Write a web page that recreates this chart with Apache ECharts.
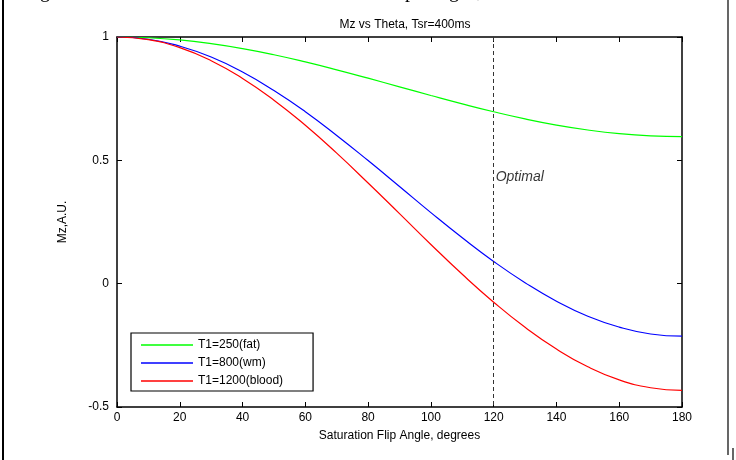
<!DOCTYPE html>
<html>
<head>
<meta charset="utf-8">
<script src="https://cdn.jsdelivr.net/npm/echarts@6/dist/echarts.min.js"></script>
<style>html,body{margin:0;padding:0;background:#fff}#c{width:736px;height:460px}</style>
</head>
<body>
<div id="c"></div>
<script>
const theta = [0,10,20,30,40,50,60,70,80,90,100,110,120,130,140,150,160,170,180];
const fat   = [1,0.997,0.988,0.973,0.953,0.928,0.899,0.867,0.833,0.798,0.763,0.729,0.697,0.668,0.643,0.623,0.608,0.599,0.596];
const wm    = [1,0.991,0.963,0.919,0.858,0.783,0.697,0.601,0.499,0.394,0.288,0.186,0.090,0.004,-0.071,-0.132,-0.176,-0.204,-0.213];
const blood = [1,0.989,0.957,0.904,0.832,0.744,0.642,0.529,0.408,0.284,0.159,0.038,-0.075,-0.177,-0.265,-0.337,-0.390,-0.422,-0.433];
const seriesNames = ['T1=250(fat)','T1=800(wm)','T1=1200(blood)'];
const xTicks = [0,20,40,60,80,100,120,140,160,180];
const yTicks = [-0.5,0,0.5,1];
const optimalTheta = 120;
const optimalLabelY = 0.43;

const font = '"Liberation Sans", Arial, sans-serif';
const pair = arr => theta.map((t,i)=>[t,arr[i]]);
const chart = echarts.init(document.getElementById('c'));
const axText = {color:'#000', fontFamily:font, fontSize:12};
chart.setOption({
  animation:false,
  backgroundColor:'#fff',
  title:{text:'Mz vs Theta, Tsr=400ms', left:400, textAlign:'center', top:14,
    textStyle:{fontFamily:font, fontSize:12, fontWeight:'normal', color:'#000'}},
  grid:{left:117, right:54, top:37, bottom:53},
  legend:{orient:'vertical', left:131, top:333, data:seriesNames,
    icon:'rect', itemWidth:52, itemHeight:1.5, itemGap:6,
    padding:[6,30,4,10], borderColor:'#000', borderWidth:1.2, backgroundColor:'#fff',
    textStyle:{fontFamily:font, fontSize:12, color:'#000'}},
  xAxis:[{type:'value', min:0, max:180, interval:20, position:'bottom',
    name:'Saturation Flip Angle, degrees', nameLocation:'middle', nameGap:23,
    nameTextStyle:axText,
    axisLine:{onZero:false, lineStyle:{color:'#000', width:1.5}},
    axisTick:{inside:true, length:5, lineStyle:{color:'#000'}},
    axisLabel:Object.assign({margin:5}, axText),
    splitLine:{show:false}},
   {type:'value', min:0, max:180, interval:20, position:'top',
    axisLine:{onZero:false, lineStyle:{color:'#000', width:1.5}},
    axisTick:{inside:true, length:5, lineStyle:{color:'#000'}},
    axisLabel:{show:false}, splitLine:{show:false}}],
  yAxis:[{type:'value', min:-0.5, max:1, interval:0.5, position:'left',
    name:'Mz,A.U.', nameLocation:'middle', nameGap:48, nameTextStyle:axText,
    axisLine:{show:true, onZero:false, lineStyle:{color:'#000', width:1.5}},
    axisTick:{show:true, inside:true, length:5, lineStyle:{color:'#000'}},
    axisLabel:Object.assign({margin:8}, axText),
    splitLine:{show:false}},
   {type:'value', min:-0.5, max:1, interval:0.5, position:'right',
    axisLine:{show:true, onZero:false, lineStyle:{color:'#000', width:1.5}},
    axisTick:{show:true, inside:true, length:5, lineStyle:{color:'#000'}},
    axisLabel:{show:false}, splitLine:{show:false}}],
  series:[
    {name:seriesNames[0], type:'line', data:pair(fat), smooth:true, showSymbol:false, z:3,
      lineStyle:{color:'#00ff00', width:1.2}, itemStyle:{color:'#00ff00'}},
    {name:seriesNames[1], type:'line', data:pair(wm), smooth:true, showSymbol:false, z:3,
      lineStyle:{color:'#0000ff', width:1.2}, itemStyle:{color:'#0000ff'}},
    {name:seriesNames[2], type:'line', data:pair(blood), smooth:true, showSymbol:false, z:3,
      lineStyle:{color:'#ff0000', width:1.2}, itemStyle:{color:'#ff0000'},
      markLine:{silent:true, symbol:'none', label:{show:false},
        lineStyle:{color:'#333', type:[4,3], width:1},
        data:[[{coord:[optimalTheta,1]},{coord:[optimalTheta,-0.5]}]]}},
    {name:'optimal', type:'scatter', data:[[optimalTheta, optimalLabelY]], symbolSize:0,
      label:{show:true, formatter:'Optimal', position:'right', distance:2,
        fontFamily:font, fontSize:14, fontStyle:'italic', color:'#000'}}
  ],
  graphic:[
    {type:'line', shape:{x1:3,y1:0,x2:3,y2:460}, style:{stroke:'#000', lineWidth:2}},
    {type:'line', shape:{x1:728,y1:0,x2:728,y2:455}, style:{stroke:'#000', lineWidth:1.2}},
    {type:'line', shape:{x1:733,y1:448,x2:733,y2:460}, style:{stroke:'#000', lineWidth:1.2}},
    {type:'text', x:40, y:-8, style:{text:'g', font:'20px "Liberation Serif", serif', fill:'#000', verticalAlign:'middle'}},
    {type:'text', x:405, y:-8, style:{text:'p', font:'20px "Liberation Serif", serif', fill:'#000', verticalAlign:'middle'}},
    {type:'text', x:449, y:-8, style:{text:'g', font:'20px "Liberation Serif", serif', fill:'#000', verticalAlign:'middle'}},
    {type:'text', x:477, y:-8, style:{text:',', font:'20px "Liberation Serif", serif', fill:'#000', verticalAlign:'middle'}}
  ]
});
</script>
</body>
</html>
